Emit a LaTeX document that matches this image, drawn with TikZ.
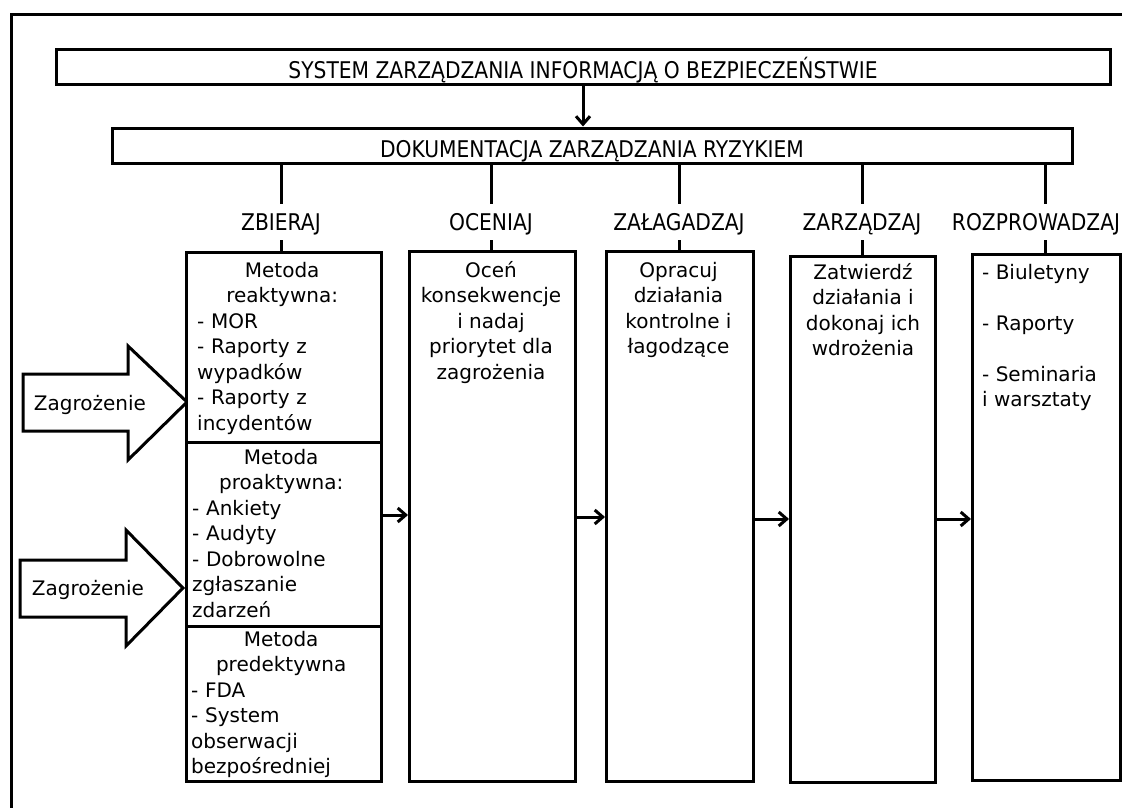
\documentclass[tikz,border=0pt]{standalone}
\usepackage{fontspec}
\setmainfont{DejaVu Sans}
\newfontfamily\condfont[FakeStretch=0.88]{DejaVu Sans}
\usetikzlibrary{arrows.meta}
\newcommand{\fl}{\rule{0pt}{16pt}}
\begin{document}
\begin{tikzpicture}[x=1pt,y=-1pt,
  every node/.style={inner sep=0pt},
  box/.style={draw, line width=3pt, anchor=north west, fill=white},
  body/.style={font=\fontsize{20}{25.5}\selectfont},
  caps/.style={font=\condfont\fontsize{23}{26}\selectfont},
  titlebox/.style={box, anchor=center, caps, text height=23pt, text depth=0pt},
  heading/.style={caps, text height=16.5pt, text depth=0pt, inner ysep=10pt},
  conn/.style={line width=3pt},
  arr/.style={line width=3pt, -{Straight Barb[length=8pt,width=14pt]}},
  blockarrow/.style={draw, line width=3pt, fill=white, line join=miter}
]
\useasboundingbox (0,0) rectangle (1122,808);
\fill[white] (0,0) rectangle (1122,808);
% outer frame (cropped)
\draw[conn] (11,808) -- (11,15) -- (1122,15);

% top boxes
\node[titlebox, minimum width=1054pt, minimum height=35pt] (sys) at (583,67)
  {SYSTEM ZARZĄDZANIA INFORMACJĄ O BEZPIECZEŃSTWIE};
\node[titlebox, minimum width=960pt, minimum height=35pt] (doc) at (592,145.5)
  {DOKUMENTACJA ZARZĄDZANIA RYZYKIEM};
\coordinate (xa) at (583,0);
\draw[arr] (sys.south -| xa) -- (doc.north -| xa);

% block arrows
\draw[blockarrow] (23,374) -- (128,374) -- (128,346) -- (187,402) -- (128,460) -- (128,431) -- (23,431) -- cycle;
\node[body, anchor=base] (z1) at (90,410) {Zagrożenie};
\draw[blockarrow] (20,560) -- (126,560) -- (126,530) -- (183,588) -- (126,646) -- (126,617) -- (20,617) -- cycle;
\node[body, anchor=base] (z2) at (88,595) {Zagrożenie};

% column boxes
\node[box, minimum width=195pt, minimum height=190pt] (b1) at (185,251) {};
\node[box, minimum width=195pt, minimum height=184pt] (b2) at (185,441) {};
\node[box, minimum width=195pt, minimum height=155pt] (b3) at (185,625) {};
\node[box, minimum width=166pt, minimum height=530pt] (c2) at (408,250) {};
\node[box, minimum width=147pt, minimum height=530pt] (c3) at (605,250) {};
\node[box, minimum width=145pt, minimum height=526pt] (c4) at (789,255) {};
\node[box, minimum width=148pt, minimum height=526pt] (c5) at (971,253) {};

% headings
\node[heading] (h1) at (281,222) {ZBIERAJ};
\node[heading] (h2) at (491,222) {OCENIAJ};
\node[heading] (h3) at (679,222) {ZAŁAGADZAJ};
\node[heading] (h4) at (862,222) {ZARZĄDZAJ};
\node[heading] (h5) at (1036,222) {ROZPROWADZAJ};
\coordinate (l5) at (1045,0);
\foreach \h/\b in {h1/b1,h2/c2,h3/c3,h4/c4}{
  \draw[conn] (doc.south -| \h) -- (\h.north);
  \draw[conn] (\h.south) -- (\b.north -| \h);
}
\draw[conn] (doc.south -| l5) -- (l5 |- h5.north);
\draw[conn] (l5 |- h5.south) -- (c5.north -| l5);

% texts
\node[body, align=left, text width=170pt, anchor=north west] (t1) at (197,261)
  {\makebox[170pt]{\fl Metoda}\\\makebox[170pt]{reaktywna:}\\- MOR\\- Raporty z\\wypadków\\- Raporty z\\incydentów};
\node[body, align=left, text width=178pt, anchor=north west] (t2) at (192,448)
  {\makebox[178pt]{\fl Metoda}\\\makebox[178pt]{proaktywna:}\\- Ankiety\\- Audyty\\- Dobrowolne\\zgłaszanie\\zdarzeń};
\node[body, align=left, text width=180pt, anchor=north west] (t3) at (191,630)
  {\makebox[180pt]{\fl Metoda}\\\makebox[180pt]{predektywna}\\- FDA\\- System\\obserwacji\\bezpośredniej};
\node[body, align=center, anchor=north] (t4) at (491,261)
  {\fl Oceń\\konsekwencje\\i nadaj\\priorytet dla\\zagrożenia};
\node[body, align=center, anchor=north] (t5) at (678.5,261)
  {\fl Opracuj\\działania\\kontrolne i\\łagodzące};
\node[body, align=center, anchor=north] (t6) at (863,263)
  {\fl Zatwierdź\\działania i\\dokonaj ich\\wdrożenia};
\node[body, align=left, anchor=north west] (t7) at (982,263)
  {\fl - Biuletyny\\[25.5pt]- Raporty\\[25.5pt]- Seminaria\\i warsztaty};

% flow arrows
\coordinate (ya) at (0,515);
\coordinate (yb) at (0,517);
\coordinate (yc) at (0,519);
\draw[arr] (b2.east |- ya) -- (c2.west |- ya);
\draw[arr] (c2.east |- yb) -- (c3.west |- yb);
\draw[arr] (c3.east |- yc) -- (c4.west |- yc);
\draw[arr] (c4.east |- yc) -- (c5.west |- yc);
\end{tikzpicture}
\end{document}
